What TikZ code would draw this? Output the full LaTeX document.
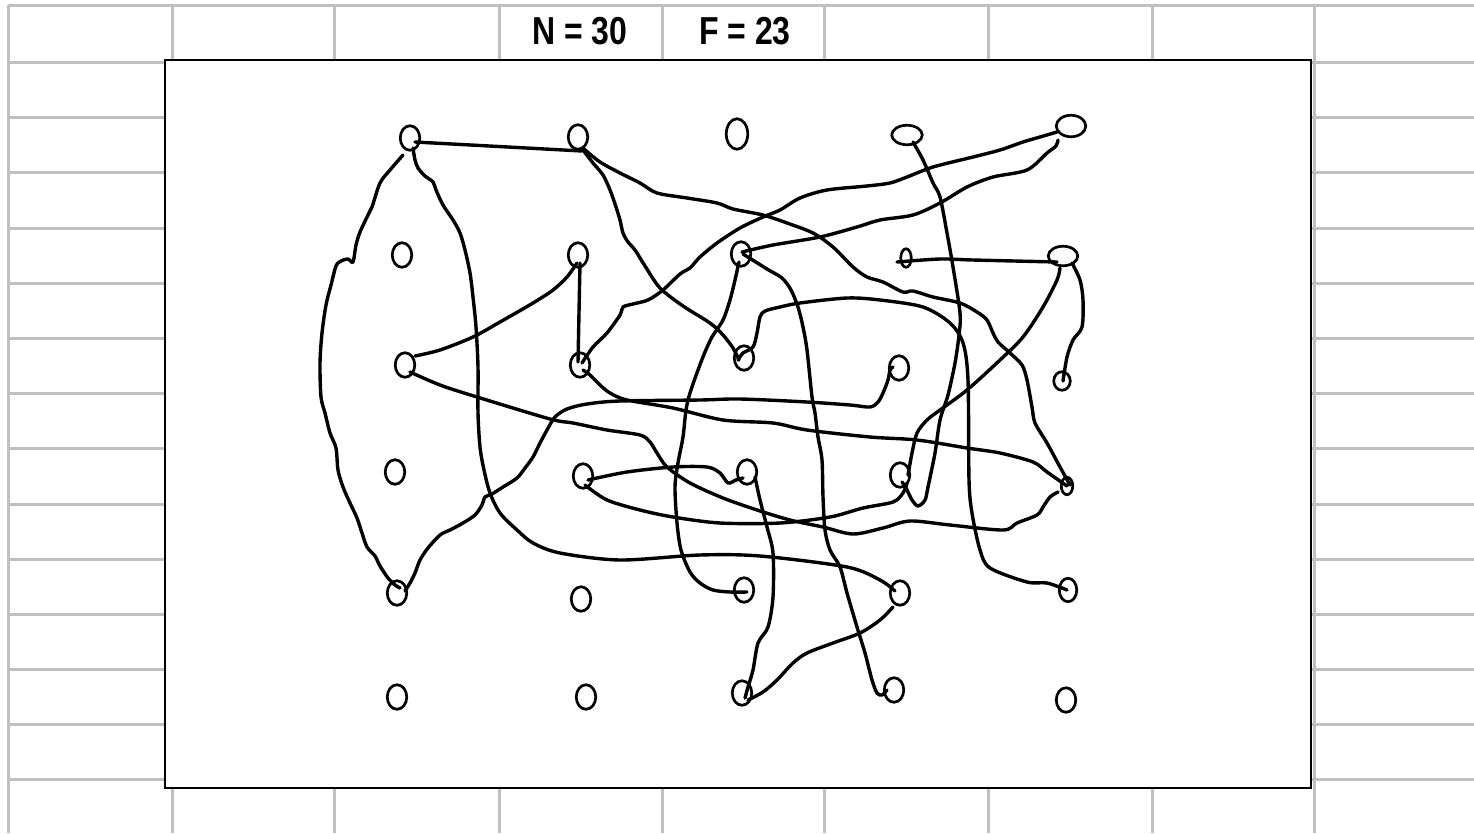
\documentclass[tikz,border=0pt]{standalone}
\usepackage{fontspec}
\newfontfamily\hdrfont[FakeStretch=0.82]{Liberation Sans}
\usetikzlibrary{shapes.geometric,calc}
\begin{document}
\begin{tikzpicture}[x=1pt,y=-1pt,
  gridline/.style={draw={rgb,255:red,192;green,192;blue,192},line width=3pt},
  frame/.style={draw=black,fill=white,line width=2.8pt},
  dot/.style={ellipse,draw=black,line width=2.7pt,inner sep=0pt,minimum width=19.5pt,minimum height=24.5pt},
  wire/.style={draw=black,line width=3.4pt,line cap=round,line join=round},
  hdr/.style={font={\hdrfont\bfseries\fontsize{39}{40}\selectfont},inner sep=0pt}]
\useasboundingbox (0,0) rectangle (1474,833);
\fill[white] (0,0) rectangle (1474,833);
% spreadsheet grid
\foreach \x in {8,172,334,499,662,824,988,1152,1314}
  \draw[gridline] (\x,5) -- (\x,833);
\foreach \y in {5,62,117,172,228,283,338,393,448,504,559,614,669,724,779}
  \draw[gridline] (8,\y) -- (1474,\y);
% header cells
\node[hdr] (hN) at (580,31) {N = 30};
\node[hdr] (hF) at (745,31) {F = 23};
% frame
\draw[frame] (165,60) rectangle (1311,788);
% nodes
\node[dot] (A1) at (410,138) {};
\node[dot] (B1) at (578,137) {};
\node[dot,minimum width=21.5pt,minimum height=30.5pt] (C1) at (737,134) {};
\node[dot,minimum width=30.5pt,minimum height=19.5pt] (D1) at (907,135) {};
\node[dot,minimum width=29.5pt,minimum height=21.5pt] (E1) at (1071,126) {};
\node[dot] (A2) at (402,255) {};
\node[dot] (B2) at (578,255) {};
\node[dot] (C2) at (741,254) {};
\node[dot,minimum width=10.5pt,minimum height=18.5pt] (D2) at (906,258) {};
\node[dot,minimum width=29.5pt,minimum height=19.5pt] (E2) at (1063,256) {};
\node[dot] (A3) at (405,365) {};
\node[dot] (B3) at (580,365) {};
\node[dot] (C3) at (744,358) {};
\node[dot] (D3) at (899,368) {};
\node[dot,minimum width=16.5pt,minimum height=18.5pt] (E3) at (1062,381) {};
\node[dot] (A4) at (395,472) {};
\node[dot] (B4) at (583,476) {};
\node[dot] (C4) at (747,472) {};
\node[dot] (D4) at (900,475) {};
\node[dot,minimum width=11.5pt,minimum height=17.5pt] (E4) at (1067,486) {};
\node[dot] (A5) at (397,593) {};
\node[dot] (B5) at (581,599) {};
\node[dot] (C5) at (744,590) {};
\node[dot] (D5) at (900,593) {};
\node[dot,minimum width=17.5pt,minimum height=23.5pt] (E5) at (1068,590) {};
\node[dot] (A6) at (397,697) {};
\node[dot] (B6) at (586,697) {};
\node[dot] (C6) at (742,693) {};
\node[dot] (D6) at (894,690) {};
\node[dot] (E6) at (1066,700) {};
% connectors
\draw[wire] ($(A1)+(5,4)$) -- ($(B1)+(4,14)$);
\draw[wire] plot[smooth,tension=0.5] coordinates {($(A1)+(-7,17)$) (390,170) (380,183) (372,207) (368,215) (360,232) (356,245) (353,262) (348,259) (341,261) (336,266) (331,285) (326,305) (322,333) (320,363) (321,397) (325,413) (330,433) (336,448) (338,470) (343,487) (350,503) (357,518) (362,533) (367,547) (375,556) (380,566) (388,578) (395,585) ($(A5)+(3,-5)$)};
\draw[wire] plot[smooth,tension=0.5] coordinates {($(A5)+(8,-2)$) (410,583) (415,573) (420,560) (428,548) (440,535) (450,530) (463,523) (475,515) (482,505) (485,497) (492,494) (503,487) (517,478) (525,468) (533,457) (540,443) (547,430) (555,417) (567,409) (587,404) (620,401) (700,400) (740,399) (807,402) (850,405) (870,407) (878,402) (883,393) (888,380) (890,370) ($(D3)+(-6,-1)$)};
\draw[wire] plot[smooth,tension=0.5] coordinates {($(A1)+(3,10)$) (415,160) (418,168) (425,176) (433,182) (436,190) (443,205) (453,220) (460,233) (465,250) (470,273) (473,297) (476,327) (478,367) (478,413) (480,447) (484,470) (490,493) (500,513) (517,530) (533,543) (560,553) (620,560) (700,555) (760,556) (847,567) (880,580) ($(D5)+(-5,-2)$)};
\draw[wire] plot[smooth,tension=0.5] coordinates {($(B1)+(5,13)$) (593,163) (603,175) (610,190) (616,207) (620,220) (623,233) (628,242) (635,250) (645,266) (660,288) (683,306) (710,323) (723,335) (733,348) ($(C3)+(-5,2)$)};
\draw[wire] plot[smooth,tension=0.5] coordinates {($(B1)+(6,12)$) (600,162) (620,173) (640,183) (657,193) (687,198) (717,203) (733,209) (763,215) (787,223) (813,233) (833,247) (853,267) (867,277) (883,282) (903,292) (913,291) (933,297) (960,303) (977,312) (987,320) (993,333) (998,342) (1010,353) (1022,365) (1027,380) (1032,407) (1035,423) (1047,443) (1060,467) ($(E4)+(3,-1)$)};
\draw[wire] plot[smooth,tension=0.5] coordinates {($(A3)+(10,-9)$) (440,350) (473,337) (500,322) (533,303) (553,290) (567,277) ($(B2)+(-1,8)$)};
\draw[wire] ($(B2)+(2,8)$) -- ($(B3)+(-2,-3)$);
\draw[wire] plot[smooth,tension=0.5] coordinates {($(B3)+(2,-2)$) (593,347) (607,333) (620,315) (623,307) (633,304) (648,300) (663,290) (680,274) (690,268) (700,257) (717,243) (740,228) (763,217) (780,210) (800,198) (827,190) (867,186) (890,183) (907,177) (933,167) (973,157) (1000,150) (1023,142) (1040,137) ($(E1)+(-14,6)$)};
\draw[wire] plot[smooth,tension=0.5] coordinates {($(C2)+(1,-2)$) (773,245) (820,237) (857,227) (880,220) (913,215) (940,203) (967,187) (993,177) (1027,170) (1047,153) (1056,146) ($(E1)+(-13,14)$)};
\draw[wire] plot[smooth,tension=0.5] coordinates {($(C2)+(-2,8)$) (735,280) (730,300) (723,320) (712,337) (705,352) (698,370) (690,393) (686,410) (683,437) (678,463) (675,487) (677,523) (681,550) (690,572) (700,583) (713,590) (730,592) ($(C5)+(3,2)$)};
\draw[wire] plot[smooth,tension=0.5] coordinates {($(C2)+(2,0)$) (767,269) (782,278) (791,290) (798,307) (803,327) (807,350) (812,397) (815,413) (818,437) (822,460) (823,497) (825,530) (830,550) (840,567) (847,593) (857,627) (865,653) (872,680) (877,693) (882,695) ($(D6)+(-7,0)$)};
\draw[wire] plot[smooth,tension=0.5] coordinates {($(B4)+(5,4)$) (627,472) (673,467) (707,467) (720,473) (728,483) (736,480) ($(C4)+(-4,6)$)};
\draw[wire] plot[smooth,tension=0.5] coordinates {($(B4)+(2,9)$) (607,500) (640,510) (673,517) (720,523) (780,523) (830,517) (863,508) (893,502) (903,493) ($(D4)+(7,8)$)};
\draw[wire] plot[smooth,tension=0.5] coordinates {($(A3)+(5,7)$) (440,385) (477,397) (550,419) (573,423) (607,430) (640,435) (650,442) (657,453) (667,467) (690,483) (723,498) (757,510) (790,520) (823,527) (853,534) (883,528) (910,521) (950,525) (1003,530) (1017,523) (1037,515) (1043,507) (1050,497) ($(E4)+(-9,6)$)};
\draw[wire] plot[smooth,tension=0.5] coordinates {($(B3)+(3,5)$) (590,375) (600,385) (610,393) (627,400) (673,408) (723,420) (773,423) (807,430) (870,437) (917,440) (967,448) (1000,453) (1033,462) (1047,472) ($(E4)+(0,0)$)};
\draw[wire] plot[smooth,tension=0.5] coordinates {($(D2)+(-9,4)$) (940,259) (973,260) ($(E2)+(-6,6)$)};
\draw[wire] plot[smooth,tension=0.5] coordinates {($(E2)+(-3,12)$) (1057,280) (1043,307) (1023,337) (1000,360) (967,390) (940,410) (927,420) (917,433) (912,453) ($(D4)+(8,0)$)};
\draw[wire] plot[smooth,tension=0.5] coordinates {($(E2)+(9,7)$) (1080,280) (1083,300) (1082,327) (1073,340) (1067,357) ($(E3)+(1,0)$)};
\draw[wire] plot[smooth,tension=0.5] coordinates {($(D1)+(6,7)$) (923,160) (933,183) (940,197) (947,233) (953,267) (960,313) (959,335) (955,363) (948,395) (940,420) (935,453) (928,487) (925,500) (918,506) (912,500) (906,488) ($(D4)+(2,7)$)};
\draw[wire] plot[smooth,tension=0.5] coordinates {($(C4)+(8,5)$) (760,500) (767,527) (773,553) (773,597) (768,627) (758,643) (753,670) (748,687) ($(C6)+(3,5)$)};
\draw[wire] plot[smooth,tension=0.5] coordinates {($(D5)+(-7,14)$) (880,620) (860,633) (833,643) (807,653) (793,663) (777,680) (763,692) ($(C6)+(6,7)$)};
\draw[wire] plot[smooth,tension=0.5] coordinates {($(C3)+(-6,2)$) (743,353) (753,347) (757,333) (760,317) (765,311) (780,307) (800,303) (847,298) (880,300) (923,307) (950,323) (963,343) (968,380) (969,480) (972,513) (980,550) (990,568) (1027,582) (1047,583) ($(E5)+(-1,0)$)};
\end{tikzpicture}
\end{document}
